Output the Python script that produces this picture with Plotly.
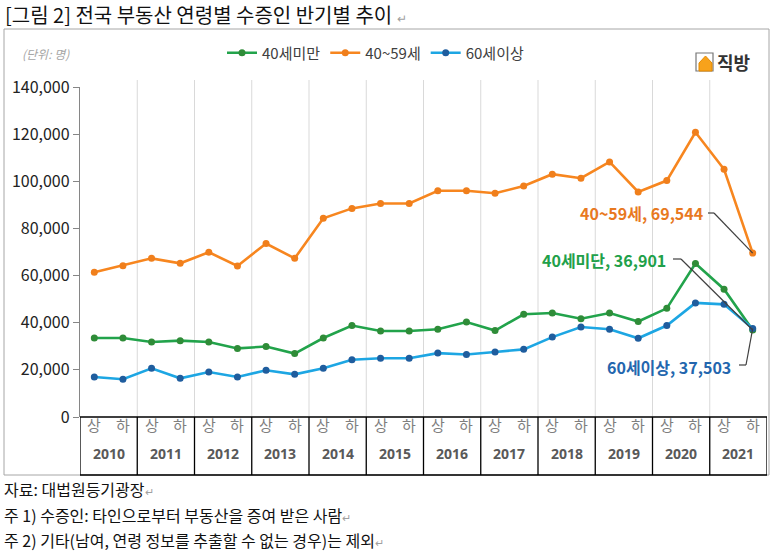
import plotly.graph_objects as go

# ---------------- data ----------------
years = ["2010", "2011", "2012", "2013", "2014", "2015", "2016", "2017", "2018", "2019", "2020", "2021"]
halves = ["상", "하"]
under40 = [33500, 33500, 31800, 32400, 31800, 29100, 29900, 26900, 33500, 38800, 36500, 36500,
           37200, 40300, 36650, 43560, 44100, 41700, 44100, 40500, 46100, 65100, 54200, 36901]
age40_59 = [61400, 64200, 67300, 65200, 69900, 64100, 73600, 67300, 84300, 88500, 90600, 90600,
            96000, 96000, 94900, 98000, 103000, 101300, 108200, 95500, 100300, 120800, 105100, 69544]
over60 = [17000, 16000, 20650, 16400, 19100, 17000, 19800, 18100, 20650, 24300, 24900, 24900,
          27100, 26500, 27600, 28700, 33900, 38200, 37200, 33400, 38800, 48400, 47800, 37503]
series_names = ["40세미만", "40~59세", "60세이상"]
end_labels = ["40세미단, 36,901", "40~59세, 69,544", "60세이상, 37,503"]

n = len(under40)
xs = list(range(n))

# ---------------- geometry helpers ----------------
W, H = 772, 552
L, R, T, B = 80, 5, 87, 135
PW, PH = W - L - R, H - T - B
YMAX = 140000

def pxx(px):  # pixel x -> paper x
    return (px - L) / PW

def pxy(py):  # pixel y -> paper y
    return (H - B - py) / PH

def dx(px):  # pixel x -> data x
    return (px - L) / PW * n - 0.5

def dy(py):  # pixel y -> data y
    return (H - B - py) / PH * YMAX

FONT = "Noto Sans CJK KR, Noto Sans, sans-serif"
LATIN = "Open Sans, Liberation Sans, sans-serif"

fig = go.Figure()
line_cols = ["#22A34B", "#F7861F", "#1DA6E3"]
mark_cols = ["#2F8C38", "#F07F1C", "#1F5D9E"]
for name, vals, lc, mc in zip(series_names, [under40, age40_59, over60], line_cols, mark_cols):
    fig.add_trace(go.Scatter(
        x=xs, y=vals, name=name, mode="lines+markers",
        line=dict(color=lc, width=2.6),
        marker=dict(color=mc, size=7, line=dict(width=0)),
    ))

shapes = []
annotations = []

# outer chart frame
shapes.append(dict(type="rect", xref="paper", yref="paper",
                   x0=pxx(4), x1=pxx(769), y0=pxy(475), y1=pxy(29),
                   line=dict(color="#A6A6A6", width=1), layer="below"))

# year boundaries: light grid in plot, black separators in the category table
for k in range(1, len(years)):
    xb = 2 * k - 0.5
    shapes.append(dict(type="line", xref="x", yref="paper", x0=xb, x1=xb,
                       y0=0, y1=pxy(80), line=dict(color="#D9D9D9", width=1), layer="below"))
    shapes.append(dict(type="line", xref="x", yref="paper", x0=xb, x1=xb,
                       y0=pxy(475), y1=0, line=dict(color="#000000", width=1.3)))
# table box
shapes.append(dict(type="rect", xref="x", yref="paper", x0=-0.5, x1=n - 0.5,
                   y0=pxy(475), y1=0, line=dict(color="#000000", width=1.3)))

# category labels
for i in xs:
    annotations.append(dict(x=i, y=pxy(437), xref="x", yref="paper", text=halves[i % 2],
                            showarrow=False, font=dict(family=FONT, size=15, color="#7F7F7F")))
for k, yr in enumerate(years):
    annotations.append(dict(x=2 * k + 0.5, y=pxy(465), xref="x", yref="paper", text="<b>" + yr + "</b>",
                            showarrow=False, font=dict(family=LATIN, size=14, color="#595959")))

# end-of-series labels with leader lines
label_specs = [
    (end_labels[0], under40[-1], "#21A049", 668, 260, [(673, 259), (681, 259)]),
    (end_labels[1], age40_59[-1], "#E8791F", 705, 213, [(708, 213), (714, 213)]),
    (end_labels[2], over60[-1], "#2366AE", 733, 367, [(739, 365), (746, 365)]),
]
for text, last, col, xr, yc, seg in label_specs:
    annotations.append(dict(x=pxx(xr), y=pxy(yc), xref="paper", yref="paper", text="<b>" + text + "</b>",
                            xanchor="right", yanchor="middle", showarrow=False,
                            font=dict(family=FONT, size=16, color=col)))
    (ax0, ay0), (ax1, ay1) = seg
    shapes.append(dict(type="line", xref="x", yref="y", x0=dx(ax0), y0=dy(ay0), x1=dx(ax1), y1=dy(ay1),
                       line=dict(color="#404040", width=1.2)))
    shapes.append(dict(type="line", xref="x", yref="y", x0=dx(ax1), y0=dy(ay1), x1=n - 1, y1=last,
                       line=dict(color="#404040", width=1.2)))

# title
annotations.append(dict(x=pxx(3), y=pxy(14), xref="paper", yref="paper", xanchor="left", yanchor="middle",
                        text="[그림 2] 전국 부동산 연령별 수증인 반기별 추이 <span style='color:#A0A0A0;font-size:12px'>↵</span>",
                        showarrow=False, font=dict(family=FONT, size=20, color="#111111")))
# unit
annotations.append(dict(x=pxx(20), y=pxy(53), xref="paper", yref="paper", xanchor="left", yanchor="middle",
                        text="<i>(단위: 명)</i>", showarrow=False,
                        font=dict(family=FONT, size=12, color="#A6A6A6")))
# logo
shapes.append(dict(type="rect", xref="paper", yref="paper", x0=pxx(696), x1=pxx(713), y0=pxy(71), y1=pxy(53),
                   line=dict(color="#777777", width=1.2), fillcolor="#FFFFFF"))
shapes.append(dict(type="path", xref="paper", yref="paper",
                   path="M {a},{b} L {c},{d} L {e},{b} L {e},{f} L {a},{f} Z".format(
                       a=pxx(699), b=pxy(63), c=pxx(705.5), d=pxy(56), e=pxx(712), f=pxy(71)),
                   line=dict(color="#E58A00", width=1), fillcolor="#F7A21B"))
annotations.append(dict(x=pxx(715), y=pxy(62), xref="paper", yref="paper", xanchor="left", yanchor="middle",
                        text="<b>직방</b>", showarrow=False, font=dict(family=FONT, size=18, color="#333333")))

# footnotes
notes = ["자료: 대법원등기광장", "주 1) 수증인: 타인으로부터 부동산을 증여 받은 사람",
         "주 2) 기타(남여, 연령 정보를 추출할 수 없는 경우)는 제외"]
for note, py in zip(notes, [489, 515, 540]):
    annotations.append(dict(x=pxx(2), y=pxy(py), xref="paper", yref="paper", xanchor="left", yanchor="middle",
                            text=note + "<span style='color:#A0A0A0;font-size:11px'>↵</span>", showarrow=False,
                            font=dict(family=FONT, size=16, color="#111111")))

fig.update_layout(
    width=W, height=H,
    margin=dict(l=L, r=R, t=T, b=B, pad=0),
    paper_bgcolor="white", plot_bgcolor="white",
    font=dict(family=FONT, size=15, color="#222222"),
    showlegend=True,
    legend=dict(orientation="h", x=pxx(222), y=pxy(53), xanchor="left", yanchor="middle",
                font=dict(family=FONT, size=15, color="#404040"), itemwidth=30,
                bgcolor="rgba(0,0,0,0)", tracegroupgap=0),
    xaxis=dict(range=[-0.5, n - 0.5], showgrid=False, zeroline=False, showticklabels=False,
               showline=False, ticks="", fixedrange=True),
    yaxis=dict(range=[0, YMAX], tickvals=[0, 20000, 40000, 60000, 80000, 100000, 120000, 140000],
               tickformat=",d", showgrid=False, zeroline=False, showline=True, linecolor="#868686",
               linewidth=1.3, ticks="outside", ticklen=6, tickcolor="#868686",
               tickfont=dict(family=FONT, size=16, color="#222222"), fixedrange=True),
    shapes=shapes, annotations=annotations,
)

fig.write_html("out.html", config={"displayModeBar": False},
               post_script="document.body.style.margin='0px';document.body.style.overflow='hidden';")
